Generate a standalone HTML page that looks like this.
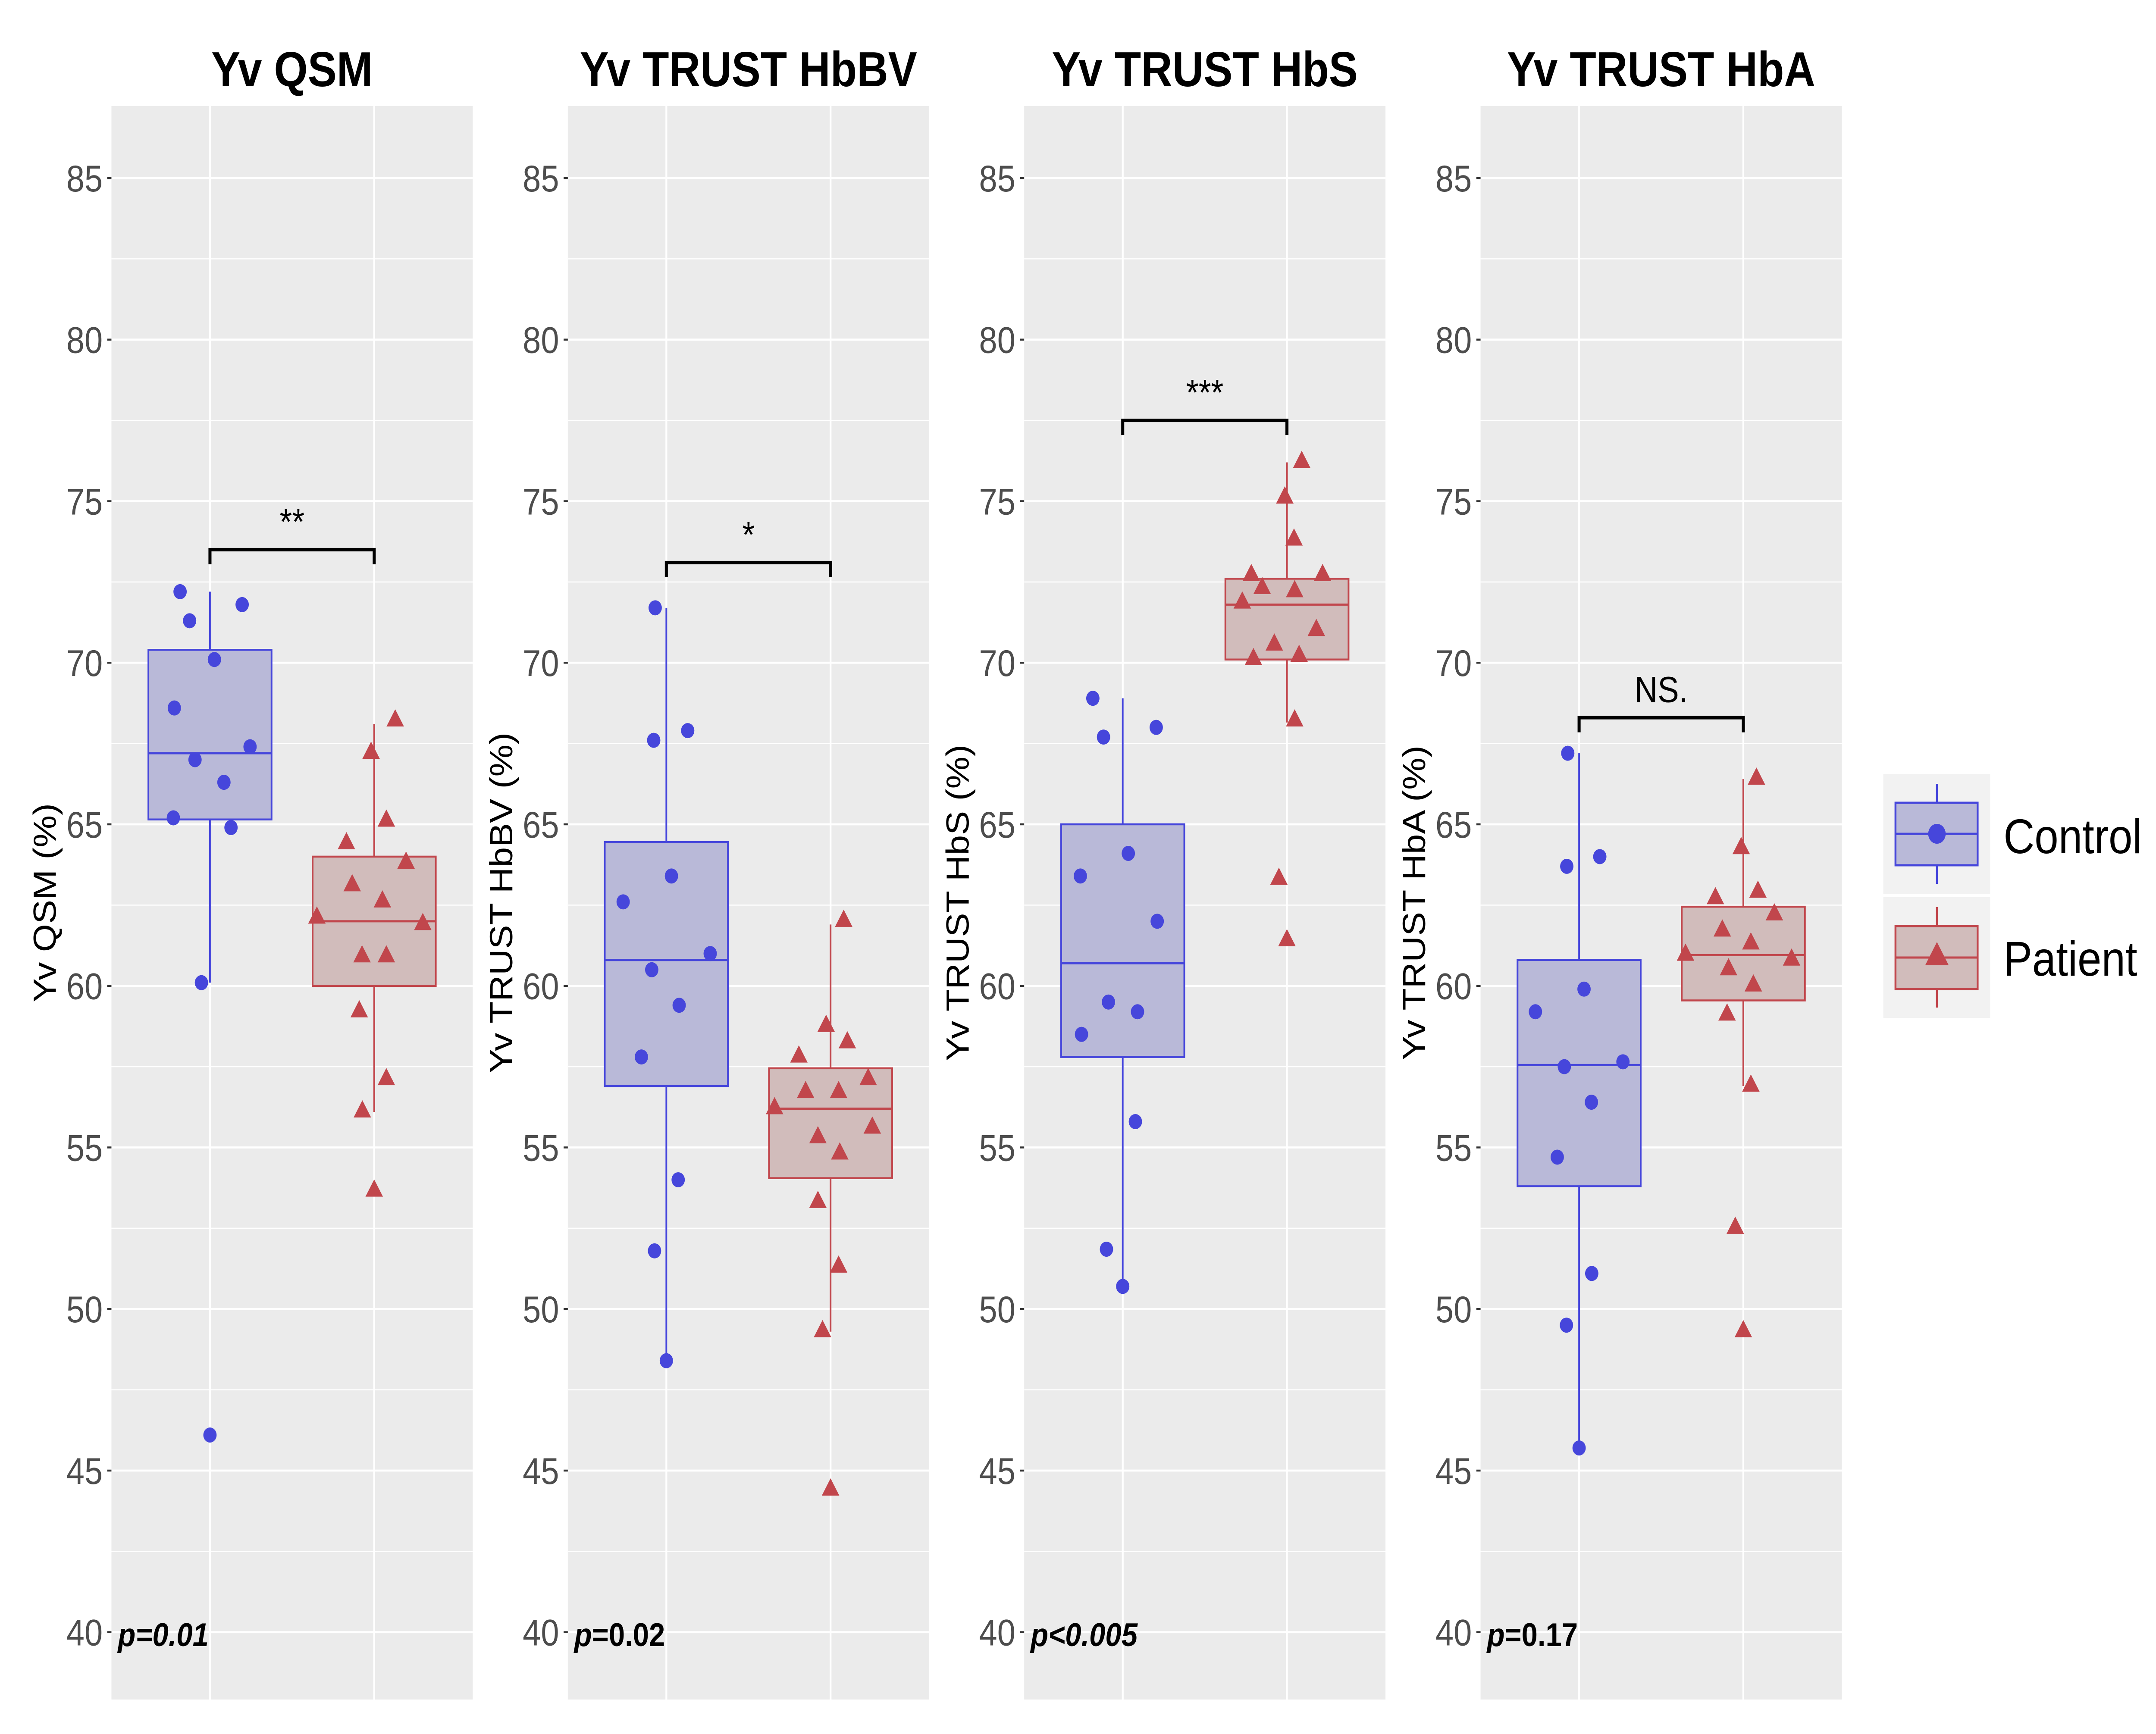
<!DOCTYPE html>
<html><head><meta charset="utf-8"><title>Yv comparison</title>
<style>
html,body{margin:0;padding:0;background:#fff;width:5669px;height:4022px;overflow:hidden}
#chart{display:block;position:absolute;left:0;top:0;width:100vw;height:100vh}
</style></head>
<body>
<svg id="chart" xmlns="http://www.w3.org/2000/svg" viewBox="0 0 5669 4022" preserveAspectRatio="none" font-family="Liberation Sans, Arial, sans-serif">
<rect x="0" y="0" width="5669" height="4022" fill="#ffffff"/>
<g id="legend">
  <g>
    <rect x="4952" y="1795" width="281" height="279" fill="#f2f2f2"/>
    <line x1="5093" y1="1818" x2="5093" y2="1862" stroke="#4646db" stroke-width="5"/>
    <line x1="5093" y1="2007" x2="5093" y2="2050" stroke="#4646db" stroke-width="5"/>
    <rect x="4984" y="1862" width="216" height="145" fill="#b9b9d8" stroke="#4646db" stroke-width="5"/>
    <line x1="4984" y1="1934" x2="5200" y2="1934" stroke="#4646db" stroke-width="5"/>
    <circle cx="5093" cy="1934" r="23" fill="#4646db"/>
    <text x="5268" y="1979" font-size="113" fill="#000">Control</text>
  </g>
  <g>
    <rect x="4952" y="2081" width="281" height="280" fill="#f2f2f2"/>
    <line x1="5093" y1="2104" x2="5093" y2="2148" stroke="#c1464c" stroke-width="5"/>
    <line x1="5093" y1="2294" x2="5093" y2="2337" stroke="#c1464c" stroke-width="5"/>
    <rect x="4984" y="2148" width="216" height="146" fill="#d1bcbb" stroke="#c1464c" stroke-width="5"/>
    <line x1="4984" y1="2221" x2="5200" y2="2221" stroke="#c1464c" stroke-width="5"/>
    <polygon points="5093,2185 5124,2239 5062,2239" fill="#c1464c"/>
    <text x="5268" y="2263" font-size="113" fill="#000">Patient</text>
  </g>
</g>
</svg>
<script>
// ---- data ----
const panelTitles = ["Yv QSM", "Yv TRUST HbBV", "Yv TRUST HbS", "Yv TRUST HbA"];
const yAxisTitles = ["Yv QSM (%)", "Yv TRUST HbBV (%)", "Yv TRUST HbS (%)", "Yv TRUST HbA (%)"];
const yTickLabels = [40, 45, 50, 55, 60, 65, 70, 75, 80, 85];
const categories = ["Control", "Patient"];
const pLabels = ["p=0.01", "p=0.02", "p<0.005", "p=0.17"];
const sigLabels = ["**", "*", "***", "NS."];
const bracketValues = [73.5, 73.1, 77.5, 68.3];

const qsmControl = [72.2, 71.3, 71.8, 70.1, 68.6, 67.0, 66.3, 67.4, 65.2, 64.9, 60.1, 46.1];
const qsmControlJitter = [-0.182, -0.124, 0.196, 0.027, -0.217, -0.091, 0.085, 0.244, -0.223, 0.128, -0.052, 0];
const qsmPatient = [68.2, 67.2, 65.1, 64.4, 63.8, 63.1, 62.6, 62.1, 61.9, 60.9, 60.9, 59.2, 57.1, 56.1, 53.65];
const qsmPatientJitter = [0.128, -0.019, 0.074, -0.169, 0.194, -0.134, 0.050, -0.349, 0.296, -0.074, 0.074, -0.091, 0.074, -0.072, 0];

const hbbvControl = [71.7, 67.6, 67.9, 62.6, 63.4, 60.5, 61.0, 59.4, 57.8, 54.0, 51.8, 48.4];
const hbbvControlJitter = [-0.068, -0.077, 0.130, -0.263, 0.031, -0.089, 0.267, 0.078, -0.152, 0.072, -0.072, 0];
const hbbvPatient = [62.0, 58.75, 58.24, 57.8, 57.1, 56.7, 56.7, 56.2, 55.3, 55.6, 54.8, 53.3, 51.3, 49.3, 44.4];
const hbbvPatientJitter = [0.080, -0.027, 0.102, -0.193, 0.229, -0.152, 0.049, -0.341, -0.077, 0.254, 0.056, -0.077, 0.049, -0.049, 0];

const hbsControl = [68.9, 67.7, 68.0, 63.4, 64.1, 62.0, 59.5, 59.2, 58.5, 55.8, 51.85, 50.7];
const hbsControlJitter = [-0.182, -0.117, 0.204, -0.258, 0.034, 0.210, -0.087, 0.090, -0.251, 0.077, -0.099, 0];
const hbsPatient = [76.2, 75.1, 73.8, 72.7, 72.7, 72.3, 72.2, 71.85, 71.0, 70.55, 70.1, 70.2, 68.2, 63.3, 61.4];
const hbsPatientJitter = [0.090, -0.013, 0.043, -0.217, 0.217, -0.151, 0.047, -0.272, 0.179, -0.077, -0.204, 0.074, 0.047, -0.049, 0];

const hbaControl = [67.2, 63.7, 64.0, 59.2, 59.9, 57.5, 57.65, 56.4, 54.7, 51.1, 49.5, 45.7];
const hbaControlJitter = [-0.069, -0.075, 0.126, -0.266, 0.030, -0.090, 0.267, 0.075, -0.133, 0.077, -0.077, 0];
const hbaPatient = [66.4, 64.25, 62.7, 62.9, 62.2, 61.7, 61.3, 60.95, 60.8, 60.5, 60.0, 59.1, 56.9, 52.5, 49.3];
const hbaPatientJitter = [0.080, -0.013, -0.170, 0.089, 0.189, -0.128, 0.046, -0.352, 0.294, -0.090, 0.061, -0.099, 0.046, -0.049, 0];

// box stats: [lower whisker, q1, median, q3, upper whisker]
const qsmControlBox = [60.1, 65.15, 67.2, 70.4, 72.2];
const qsmPatientBox = [56.1, 60.0, 62.0, 64.0, 68.1];
const hbbvControlBox = [48.4, 56.9, 60.8, 64.45, 71.7];
const hbbvPatientBox = [49.3, 54.05, 56.2, 57.45, 61.9];
const hbsControlBox = [50.7, 57.8, 60.7, 65.0, 68.9];
const hbsPatientBox = [68.15, 70.1, 71.8, 72.6, 76.2];
const hbaControlBox = [45.7, 53.8, 57.55, 60.8, 67.2];
const hbaPatientBox = [56.9, 59.55, 60.95, 62.45, 66.4];

const panelControl = [qsmControl, hbbvControl, hbsControl, hbaControl];
const panelControlJitter = [qsmControlJitter, hbbvControlJitter, hbsControlJitter, hbaControlJitter];
const panelPatient = [qsmPatient, hbbvPatient, hbsPatient, hbaPatient];
const panelPatientJitter = [qsmPatientJitter, hbbvPatientJitter, hbsPatientJitter, hbaPatientJitter];
const panelControlBox = [qsmControlBox, hbbvControlBox, hbsControlBox, hbaControlBox];
const panelPatientBox = [qsmPatientBox, hbbvPatientBox, hbsPatientBox, hbaPatientBox];

// ---- layout ----
const NS = "http://www.w3.org/2000/svg";
const svg = document.getElementById("chart");
const legendNode = document.getElementById("legend");
const PANEL_W = 950, PANEL_TOP = 246, PANEL_BOTTOM = 3942;
const panelLefts = [293, 1493, 2693, 3893];
const BLUE = "#4646db", BLUE_FILL = "#b9b9d8", RED = "#c1464c", RED_FILL = "#d1bcbb";
function yScale(v) { return 413 + (85 - v) * 74.95; }
function xScale(left, catPos) { return left + PANEL_W * (catPos - 0.4) / 2.2; }
function mk(tag, attrs, parent) {
  const el = document.createElementNS(NS, tag);
  for (const k in attrs) el.setAttribute(k, attrs[k]);
  parent.appendChild(el);
  return el;
}

panelTitles.forEach(function (title, i) {
  const left = panelLefts[i];
  const g = mk("g", {}, svg);
  
  
  svg.insertBefore(g, legendNode);

  const bg = mk("rect", { x: left, y: PANEL_TOP, width: PANEL_W, height: PANEL_BOTTOM - PANEL_TOP, fill: "#ebebeb" }, g);
  
  

  for (let k = 0; k < yTickLabels.length - 1; k++) {
    const mv = (yTickLabels[k] + yTickLabels[k + 1]) / 2;
    const ml = mk("line", { x1: left, x2: left + PANEL_W, y1: yScale(mv), y2: yScale(mv), stroke: "#ffffff", "stroke-width": 2.4 }, g);
    
    
  }
  yTickLabels.forEach(function (t) {
    const y = yScale(t);
    const gl = mk("line", { x1: left, x2: left + PANEL_W, y1: y, y2: y, stroke: "#ffffff", "stroke-width": 4.8 }, g);
    
    
    const tk = mk("line", { x1: left - 11, x2: left, y1: y, y2: y, stroke: "#333333", "stroke-width": 4.5 }, g);
    
    
    const tl = mk("text", { x: left - 23, y: y + 31, "font-size": 86, fill: "#4d4d4d", "text-anchor": "end" }, g);
    
    
    tl.textContent = t;
  });
  categories.forEach(function (c, ci) {
    const x = xScale(left, ci + 1);
    const vl = mk("line", { x1: x, x2: x, y1: PANEL_TOP, y2: PANEL_BOTTOM, stroke: "#ffffff", "stroke-width": 4.8 }, g);
    
    
  });

  const tt = mk("text", { x: left + PANEL_W / 2, y: 200, "font-size": 114, "font-weight": "bold", "text-anchor": "middle", fill: "#000" }, g);
  
  
  tt.textContent = title;

  const cy = (PANEL_TOP + PANEL_BOTTOM) / 2;
  const ax = left - 146;
  const at = mk("text", { x: ax, y: cy, "font-size": 84, "text-anchor": "middle", fill: "#000", transform: "rotate(-90 " + ax + " " + cy + ")" }, g);
  
  
  at.textContent = yAxisTitles[i];

  const groups = [
    { box: panelControlBox[i], vals: panelControl[i], jit: panelControlJitter[i], col: BLUE, fill: BLUE_FILL, name: "control", shape: "circle" },
    { box: panelPatientBox[i], vals: panelPatient[i], jit: panelPatientJitter[i], col: RED, fill: RED_FILL, name: "patient", shape: "triangle" }
  ];
  groups.forEach(function (gr, gi) {
    const cx = xScale(left, gi + 1);
    const hw = PANEL_W / 2.2 * 0.375;
    const bg2 = mk("g", {}, g);
    
    
    const w1 = mk("line", { x1: cx, x2: cx, y1: yScale(gr.box[0]), y2: yScale(gr.box[1]), stroke: gr.col, "stroke-width": 4.5 }, bg2);
    
    
    const w2 = mk("line", { x1: cx, x2: cx, y1: yScale(gr.box[3]), y2: yScale(gr.box[4]), stroke: gr.col, "stroke-width": 4.5 }, bg2);
    
    
    const rb = mk("rect", { x: cx - hw, y: yScale(gr.box[3]), width: 2 * hw, height: yScale(gr.box[1]) - yScale(gr.box[3]), fill: gr.fill, stroke: gr.col, "stroke-width": 4.5 }, bg2);
    
    
    const md = mk("line", { x1: cx - hw, x2: cx + hw, y1: yScale(gr.box[2]), y2: yScale(gr.box[2]), stroke: gr.col, "stroke-width": 5 }, bg2);
    
    
  });
  groups.forEach(function (gr, gi) {
    gr.vals.forEach(function (v, k) {
      const px = xScale(left, gi + 1 + gr.jit[k]);
      const py = yScale(v);
      let p;
      if (gr.shape === "circle") {
        p = mk("circle", { cx: px, cy: py, r: 17.5, fill: gr.col }, g);
        
      } else {
        p = mk("polygon", { points: px + "," + (py - 27) + " " + (px + 23) + "," + (py + 13) + " " + (px - 23) + "," + (py + 13), fill: gr.col }, g);
        
      }
      
    });
  });

  const bx1 = xScale(left, 1), bx2 = xScale(left, 2), by = yScale(bracketValues[i]);
  const br = mk("path", { d: "M" + bx1 + "," + (by + 34) + " L" + bx1 + "," + by + " L" + bx2 + "," + by + " L" + bx2 + "," + (by + 34), fill: "none", stroke: "#000", "stroke-width": 8 }, g);
  
  
  const sl = mk("text", { x: (bx1 + bx2) / 2, y: by - 36, "font-size": 84, "text-anchor": "middle", fill: "#000" }, g);
  
  
  sl.textContent = sigLabels[i];

  const pt = mk("text", { x: left + 17, y: 3818, "font-size": 76, "font-weight": "bold", fill: "#000" }, g);
  
  
  if (i === 0 || i === 2) {
    pt.setAttribute("font-style", "italic");
    pt.textContent = pLabels[i];
  } else {
    const ts = mk("tspan", { "font-style": "italic" }, pt);
    ts.textContent = pLabels[i].charAt(0);
    pt.appendChild(document.createTextNode(pLabels[i].slice(1)));
  }
});
</script>
</body></html>
